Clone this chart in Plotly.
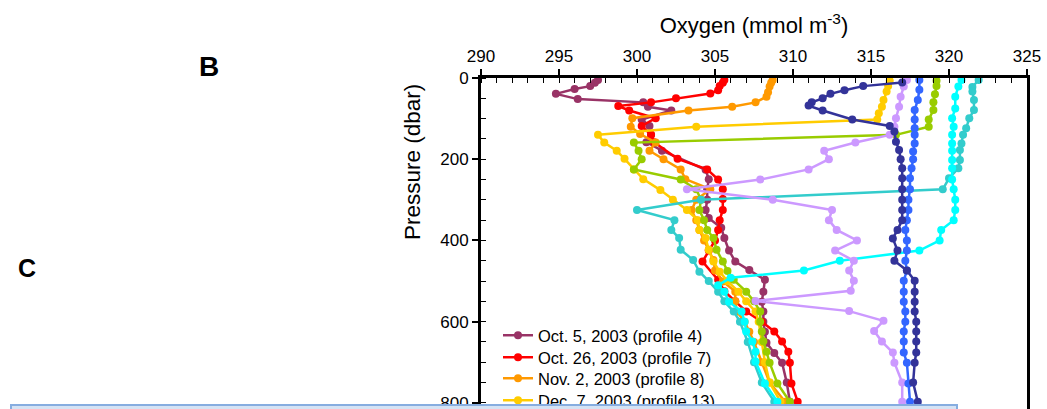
import plotly.graph_objects as go

# ---------------- data ----------------
names = [
    "Oct. 5, 2003 (profile 4)",
    "Oct. 26, 2003 (profile 7)",
    "Nov. 2, 2003 (profile 8)",
    "Dec. 7, 2003 (profile 13)",
    "profile green",
    "profile teal",
    "profile cyan",
    "profile lavender",
    "profile blue",
    "profile navy",
]
colors = ["#993366", "#ff0000", "#ff9900", "#ffcc00", "#99cc00",
          "#33cccc", "#00ffff", "#cc99ff", "#3366ff", "#333399"]

p_prof4 = [5, 12, 20, 27, 39, 52, 60, 71, 80, 102, 118, 140, 158, 179, 226, 249, 274, 300, 325,
           345, 369, 394, 425, 452, 473, 497, 526, 551, 575, 600, 625, 652, 677, 701, 750, 797]
o_prof4 = [297.5, 297.3, 297.0, 296.0, 294.8, 296.2, 300.4, 300.7, 302.2, 300.3, 300.8, 300.9, 300.6, 301.6,
           304.4, 304.6, 304.5, 304.5, 304.4, 304.6, 305.4, 305.6, 305.9, 306.3, 307.2, 308.2, 308.1, 308.0,
           308.1, 308.1, 308.2, 308.3, 308.8, 309.3, 309.6, 309.8]

p_prof7 = [5, 12, 20, 30, 38, 50, 60, 69, 80, 99, 118, 140, 158, 199, 225, 250, 274, 298, 325, 350,
           374, 400, 425, 452, 497, 525, 550, 575, 600, 624, 649, 674, 701, 752, 797]
o_prof7 = [305.6, 305.5, 305.3, 305.2, 304.7, 302.5, 300.9, 298.8, 299.5, 301.2, 300.3, 300.9, 301.1,
           302.6, 304.5, 305.2, 305.5, 305.5, 305.5, 305.3, 305.2, 305.0, 304.6, 304.2, 305.2, 305.6,
           306.3, 307.0, 308.0, 308.8, 309.3, 309.7, 309.8, 309.9, 310.3]

p_prof8 = [5, 12, 21, 35, 46, 60, 71, 80, 99, 120, 138, 159, 179, 200, 225, 249, 274, 300, 325, 350,
           374, 400, 423, 448, 474, 501, 526, 550, 575, 600, 625, 650, 700, 750, 797]
o_prof8 = [308.7, 308.6, 308.5, 308.4, 308.3, 307.6, 306.1, 303.3, 299.7, 299.6, 300.2, 301.2, 300.8,
           301.7, 302.8, 303.1, 304.7, 303.8, 303.5, 303.8, 304.0, 304.3, 304.6, 304.9, 305.0, 305.5,
           306.3, 306.3, 306.4, 306.9, 307.2, 307.5, 308.0, 308.5, 309.5]

p_prof13 = [7, 20, 33, 54, 71, 87, 102, 120, 140, 159, 179, 199, 225, 249, 276, 300, 325, 350, 374,
            394, 423, 452, 477, 500, 526, 550, 575, 600, 650, 700, 750, 797]
o_prof13 = [316.2, 316.1, 316.0, 315.8, 315.7, 315.5, 315.4, 303.8, 297.5, 297.9, 298.7, 299.2, 299.8,
            300.4, 301.5, 302.3, 303.2, 303.9, 304.0, 304.4, 304.6, 304.9, 305.3, 305.8, 306.5, 307.0,
            307.6, 307.8, 308.0, 308.2, 308.5, 309.2]

p_green = [7, 20, 40, 60, 79, 102, 120, 140, 159, 179, 200, 225, 250, 274, 300, 325, 350, 374, 394,
           423, 452, 475, 497, 526, 550, 575, 600, 624, 648, 674, 701, 752, 797]
o_green = [319.2, 319.2, 319.1, 319.0, 319.0, 318.7, 318.7, 316.6, 299.8, 300.1, 300.3, 299.8, 302.8,
           303.8, 304.1, 304.0, 304.3, 304.5, 304.9, 305.1, 305.5, 305.8, 306.2, 307.0, 307.5, 307.9,
           307.9, 308.0, 308.1, 308.3, 308.5, 309.0, 309.8]

p_teal = [5, 22, 33, 54, 79, 99, 124, 140, 161, 177, 202, 222, 247, 274, 300, 325, 350, 374, 394, 423,
          448, 477, 500, 526, 550, 575, 600, 650, 700, 750, 797]
o_teal = [321.9, 321.5, 321.5, 321.6, 321.6, 321.3, 321.1, 320.9, 320.8, 320.7, 320.7, 320.6, 320.0,
          319.6, 304.1, 300.0, 302.4, 302.2, 302.7, 302.8, 303.6, 304.0, 304.6, 305.2, 305.6, 306.2,
          306.6, 307.1, 307.5, 308.0, 308.8]

p_cyan = [5, 21, 46, 75, 99, 120, 140, 161, 179, 202, 222, 250, 274, 300, 325, 350, 374, 400, 425,
          450, 474, 492, 510, 526, 551, 575, 600, 624, 649, 674, 698, 752, 797]
o_cyan = [320.8, 320.6, 320.4, 320.4, 320.2, 320.3, 320.2, 320.2, 320.2, 320.2, 320.2, 320.2, 320.3,
          320.4, 320.4, 320.3, 319.5, 319.4, 318.1, 313.0, 310.7, 306.0, 305.2, 305.6, 305.9, 306.7,
          306.9, 307.0, 307.4, 307.6, 307.6, 308.2, 309.0]

p_lav = [5, 21, 46, 71, 99, 120, 140, 159, 179, 200, 225, 250, 274, 300, 325, 350, 374, 400, 425,
         450, 474, 499, 524, 549, 574, 598, 623, 649, 676, 701, 750, 797]
o_lav = [317.3, 317.1, 316.9, 316.8, 316.6, 316.5, 316.2, 314.0, 312.0, 312.3, 311.0, 307.9, 303.2,
         308.7, 312.5, 312.3, 312.8, 314.1, 312.7, 313.9, 313.6, 313.9, 313.7, 307.6, 313.6, 315.8,
         315.2, 315.7, 316.4, 316.5, 317.0, 317.0]

p_blue = [5, 29, 54, 79, 102, 124, 140, 161, 181, 200, 222, 247, 274, 300, 325, 350, 374, 400, 425,
          450, 474, 499, 526, 551, 575, 600, 624, 649, 676, 701, 752, 797]
o_blue = [318.1, 318.1, 318.0, 317.8, 317.8, 317.8, 317.8, 317.8, 317.7, 317.7, 317.6, 317.5, 317.5,
          317.4, 317.4, 317.3, 317.2, 317.3, 317.3, 317.2, 317.3, 317.1, 317.1, 317.1, 317.2, 317.2,
          317.1, 317.1, 317.1, 317.3, 317.4, 317.5]

p_navy = [11, 20, 30, 39, 50, 60, 68, 80, 102, 118, 132, 157, 177, 200, 222, 247, 274, 300, 325, 350,
          374, 395, 425, 450, 474, 499, 526, 551, 575, 600, 624, 649, 676, 701, 750, 797]
o_navy = [317.0, 314.5, 313.3, 312.4, 311.9, 311.2, 311.0, 311.9, 313.8, 316.2, 316.5, 316.6, 316.8,
          316.9, 317.0, 317.0, 317.0, 317.0, 317.0, 317.0, 316.7, 316.4, 316.7, 316.5, 317.3, 317.8,
          317.8, 317.8, 317.8, 317.9, 317.9, 317.9, 317.9, 317.8, 317.7, 318.0]

pressures = [p_prof4, p_prof7, p_prof8, p_prof13, p_green, p_teal, p_cyan, p_lav, p_blue, p_navy]
oxygens = [o_prof4, o_prof7, o_prof8, o_prof13, o_green, o_teal, o_cyan, o_lav, o_blue, o_navy]
legend_ids = ["legend", "legend2", "legend3", "legend4", None, None, None, None, None, None]

x_ticks = [290, 295, 300, 305, 310, 315, 320, 325]
y_ticks = [0, 200, 400, 600, 800]

FONT = "Arial, Liberation Sans, sans-serif"

# plot-area geometry in pixels (used to place paper-referenced items)
W, H = 1047, 409
L, R, T, B = 481, 20, 78, 0
PW, PH = W - L - R, H - T - B


def px_to_paper_x(px):
    return (px - L) / PW


def px_to_paper_y(py):
    return (H - B - py) / PH


fig = go.Figure()
for name, col, p, o, lg in zip(names, colors, pressures, oxygens, legend_ids):
    kw = dict(showlegend=lg is not None)
    if lg is not None:
        kw["legend"] = lg
    fig.add_trace(go.Scatter(
        x=o, y=p, name=name, mode="lines+markers",
        line=dict(color=col, width=2.5),
        marker=dict(color=col, size=8),
        **kw,
    ))

legend_centers = [335, 357, 378, 400]
legends = {}
for lg, c in zip(["legend", "legend2", "legend3", "legend4"], legend_centers):
    legends[lg] = dict(x=px_to_paper_x(498), y=px_to_paper_y(c - 17), xanchor="left", yanchor="top",
                       font=dict(size=16.5, family=FONT, color="black"),
                       bgcolor="rgba(0,0,0,0)", itemwidth=30)

fig.update_layout(
    width=W, height=H,
    margin=dict(l=L, r=R, t=T, b=B, autoexpand=False),
    paper_bgcolor="white", plot_bgcolor="white",
    font=dict(family=FONT, color="black", size=17),
    xaxis=dict(side="top", range=[290, 325], tickvals=x_ticks,
               ticks="outside", ticklen=6, tickwidth=1.5, tickcolor="black",
               showline=True, linewidth=3, linecolor="black", mirror=False,
               showgrid=False, zeroline=False,
               minor=dict(dtick=1, ticks="inside", ticklen=5, tickwidth=1, tickcolor="black"),
               tickfont=dict(size=17, family=FONT),
               title=dict(text="Oxygen (mmol m<sup>-3</sup>)", font=dict(size=22, family=FONT),
                          standoff=8)),
    yaxis=dict(range=[815, 0], tickvals=y_ticks,
               ticks="outside", ticklen=6, tickwidth=1.5, tickcolor="black",
               showline=True, linewidth=3, linecolor="black", mirror=True,
               showgrid=False, zeroline=False, ticklabeloverflow="allow",
               minor=dict(dtick=50, ticks="inside", ticklen=5, tickwidth=1, tickcolor="black"),
               tickfont=dict(size=17, family=FONT)),
    **legends,
)

# y-axis title (placed as in the reference, above the centre of the visible axis)
fig.add_annotation(text="Pressure (dbar)", xref="paper", yref="paper",
                   x=px_to_paper_x(412), y=px_to_paper_y(162), xanchor="center", yanchor="middle",
                   textangle=-90, showarrow=False, font=dict(size=22.5, family=FONT, color="black"))

# panel letters
fig.add_annotation(text="<b>B</b>", xref="paper", yref="paper",
                   x=px_to_paper_x(209), y=px_to_paper_y(66), xanchor="center", yanchor="middle",
                   showarrow=False, font=dict(size=28, family=FONT, color="black"))
fig.add_annotation(text="<b>C</b>", xref="paper", yref="paper",
                   x=px_to_paper_x(27), y=px_to_paper_y(268), xanchor="center", yanchor="middle",
                   showarrow=False, font=dict(size=25, family=FONT, color="black"))

# light blue text box at the bottom of the slide
fig.add_annotation(text=" ", xref="paper", yref="paper",
                   x=px_to_paper_x(10), y=px_to_paper_y(404), xanchor="left", yanchor="top",
                   width=942, height=40, showarrow=False,
                   bgcolor="#d5e3f4", bordercolor="#86ade0", borderwidth=2)

fig.write_html("out.html")
